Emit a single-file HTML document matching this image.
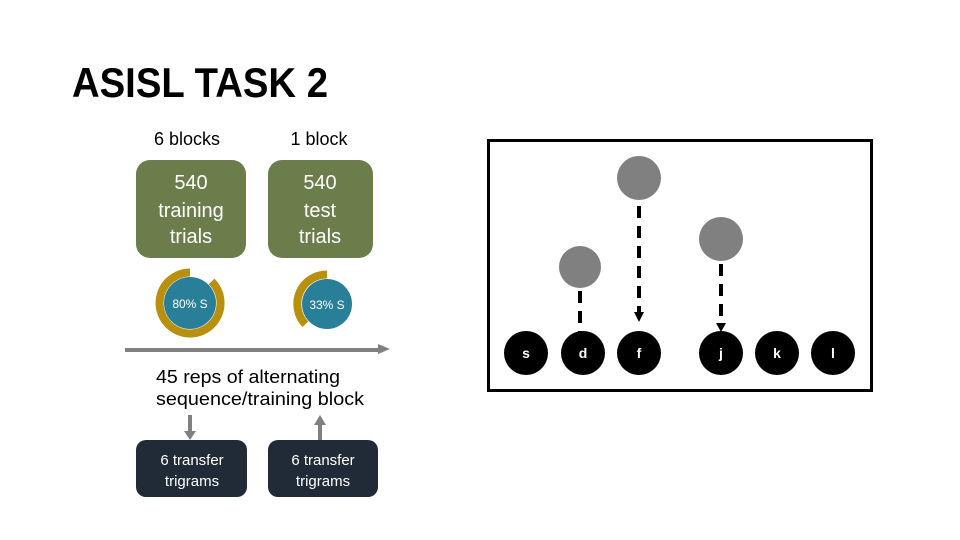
<!DOCTYPE html>
<html><head><meta charset="utf-8"><style>
html,body{margin:0;padding:0;background:#fff;}
svg{display:block;}
text{font-family:"Liberation Sans",sans-serif;}
</style></head><body>
<svg width="960" height="540" viewBox="0 0 960 540" xmlns="http://www.w3.org/2000/svg">
<text x="72" y="97" font-size="42" font-weight="bold" fill="#000" textLength="256" lengthAdjust="spacingAndGlyphs">ASISL TASK 2</text>
<text x="187" y="145" font-size="18" text-anchor="middle" fill="#000">6 blocks</text>
<text x="319" y="145" font-size="18" text-anchor="middle" fill="#000">1 block</text>
<rect x="136" y="160" width="110" height="98" rx="14" fill="#6a7d4a"/>
<rect x="268" y="160" width="105" height="98" rx="14" fill="#6a7d4a"/>
<g font-size="20" fill="#fff" text-anchor="middle">
<text x="191" y="189">540</text><text x="191" y="217">training</text><text x="191" y="243">trials</text>
<text x="320" y="189">540</text><text x="320" y="217">test</text><text x="320" y="243">trials</text>
</g>
<path d="M 190 272.5 A 30.5 30.5 0 1 0 211.6 281.4" fill="none" stroke="#b8900e" stroke-width="8"/>
<circle cx="190" cy="303" r="26" fill="#2a7f98"/>
<text x="190" y="308" font-size="12" fill="#fff" text-anchor="middle">80% S</text>
<path d="M 327 274.5 A 29.5 29.5 0 0 0 305.4 324.3" fill="none" stroke="#b8900e" stroke-width="8"/>
<circle cx="327" cy="304" r="25" fill="#2a7f98"/>
<text x="327" y="309" font-size="12" fill="#fff" text-anchor="middle">33% S</text>
<line x1="125" y1="350" x2="380" y2="350" stroke="#808080" stroke-width="4"/>
<polygon points="378,344 390,349 378,354" fill="#808080"/>
<text x="156" y="383" font-size="18" fill="#000" textLength="184" lengthAdjust="spacingAndGlyphs">45 reps of alternating</text>
<text x="156" y="405" font-size="18" fill="#000" textLength="208" lengthAdjust="spacingAndGlyphs">sequence/training block</text>
<line x1="190" y1="415" x2="190" y2="432" stroke="#808080" stroke-width="4"/>
<polygon points="184,431 196,431 190,440" fill="#808080"/>
<line x1="320" y1="424" x2="320" y2="445" stroke="#808080" stroke-width="4"/>
<polygon points="314,425 326,425 320,415" fill="#808080"/>
<rect x="136" y="440" width="111" height="57" rx="10" fill="#212a37"/>
<rect x="268" y="440" width="110" height="57" rx="10" fill="#212a37"/>
<g font-size="15" fill="#fff" text-anchor="middle">
<text x="192" y="465">6 transfer</text><text x="192" y="486">trigrams</text>
<text x="323" y="465">6 transfer</text><text x="323" y="486">trigrams</text>
</g>
<rect x="488.5" y="140.5" width="383" height="250" fill="none" stroke="#000" stroke-width="3"/>
<circle cx="639" cy="178" r="22" fill="#808080"/>
<circle cx="580" cy="267" r="21" fill="#808080"/>
<circle cx="721" cy="239" r="22" fill="#808080"/>
<g stroke="#000" stroke-width="4" stroke-dasharray="12,8">
<line x1="580" y1="291" x2="580" y2="332"/>
<line x1="639" y1="206" x2="639" y2="312"/>
<line x1="721" y1="264" x2="721" y2="323"/>
</g>
<polygon points="634,312 644,312 639,322" fill="#000"/>
<polygon points="716,323 726,323 721,332" fill="#000"/>
<g fill="#000">
<circle cx="526" cy="353" r="22"/><circle cx="583" cy="353" r="22"/><circle cx="639" cy="353" r="22"/>
<circle cx="721" cy="353" r="22"/><circle cx="777" cy="353" r="22"/><circle cx="833" cy="353" r="22"/>
</g>
<g font-size="14" font-weight="bold" fill="#fff" text-anchor="middle">
<text x="526" y="358">s</text><text x="583" y="358">d</text><text x="639" y="358">f</text>
<text x="721" y="358">j</text><text x="777" y="358">k</text><text x="833" y="358">l</text>
</g>
</svg>
</body></html>
